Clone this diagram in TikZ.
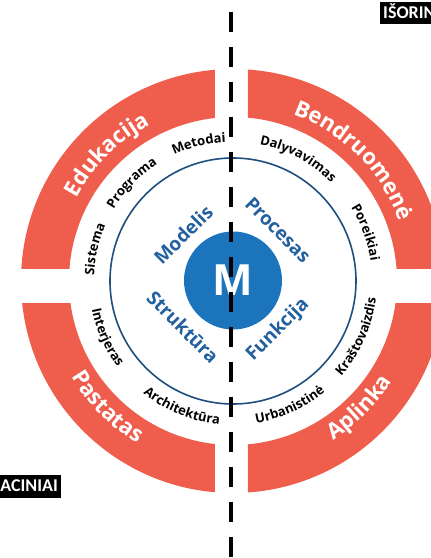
\documentclass[tikz,border=0pt]{standalone}
\usepackage{fontspec}
\setmainfont{Open Sans}
\newfontfamily\boxfont{Carlito}
\usetikzlibrary{decorations.text}

\definecolor{ringred}{RGB}{239,94,77}
\definecolor{discblue}{RGB}{28,117,188}
\definecolor{ringnavy}{RGB}{30,78,125}
\definecolor{labelblue}{RGB}{34,96,158}

\newcommand\blacklab{\fontsize{13}{15}\selectfont\bfseries}
\newcommand\redlab{\color{white}\fontsize{22}{26}\selectfont\bfseries}

\tikzset{
  arclabel/.style={decorate, decoration={text along path, text align=center, text={#1}}},
  innerlabel/.style={text=labelblue, font=\fontsize{19}{22}\selectfont\bfseries, inner sep=0pt},
  tagbox/.style={fill=black, text=white, font=\boxfont\bfseries\fontsize{18}{18}\selectfont,
    inner xsep=3pt, inner ysep=0pt, text height=16.5pt, text depth=6pt},
  divider/.style={line width=4.6pt, dash pattern=on 20pt off 15pt},
}

\begin{document}
\begin{tikzpicture}[x=1pt,y=1pt]
\useasboundingbox (-233,-277) rectangle (198,281);
\clip (-233,-277) rectangle (198,281);

% red ring, four segments
\foreach \xa/\xb/\ya/\yb in {-240/-18/13/290, 15/240/13/290, -240/-18/-290/-22, 15/240/-290/-22} {
  \begin{scope}
    \clip (\xa,\ya) rectangle (\xb,\yb);
    \fill[ringred, even odd rule] (0,0) circle[radius=212] circle[radius=164];
  \end{scope}
}
\path[arclabel={|\redlab|Edukacija}] (180:177) arc[start angle=180, end angle=90, radius=177];
\path[arclabel={|\redlab|Bendruomenė}] (90:177) arc[start angle=90, end angle=0, radius=177];
\path[arclabel={|\redlab|Pastatas}] (180:188) arc[start angle=180, end angle=270, radius=188];
\path[arclabel={|\redlab|Aplinka}] (270:188) arc[start angle=270, end angle=360, radius=188];

% black labels between ring and circle
\path[arclabel={|\blacklab|Metodai}] (144:139) arc[start angle=144, end angle=64, radius=139];
\path[arclabel={|\blacklab|Programa}] (176:139) arc[start angle=176, end angle=96, radius=139];
\path[arclabel={|\blacklab|Sistema}] (207:139) arc[start angle=207, end angle=127, radius=139];
\path[arclabel={|\blacklab|Dalyvavimas}] (102:139) arc[start angle=102, end angle=22, radius=139];
\path[arclabel={|\blacklab|Poreikiai}] (60:139) arc[start angle=60, end angle=-20, radius=139];
\path[arclabel={|\blacklab|Interjeras}] (164:144) arc[start angle=164, end angle=244, radius=144];
\path[arclabel={|\blacklab|Architektūra}] (208:144) arc[start angle=208, end angle=288, radius=144];
\path[arclabel={|\blacklab|Urbanistinė}] (254.5:144) arc[start angle=254.5, end angle=334.5, radius=144];
\path[arclabel={|\blacklab|Kraštovaizdis}] (296:144) arc[start angle=296, end angle=376, radius=144];

% blue core
\draw[ringnavy, line width=1.6pt] (0,0) circle[radius=123];
\node[circle, fill=discblue, minimum size=98pt, inner sep=0pt, text=white,
  font=\fontsize{43}{43}\selectfont\bfseries] (hub) at (0,0.5) {M};
\node[innerlabel, rotate=45] (modelis) at (137:68) {Modelis};
\node[innerlabel, rotate=-45] (procesas) at (48.6:68) {Procesas};
\node[innerlabel, rotate=-45] (struktura) at (222.6:68) {Struktūra};
\node[innerlabel, rotate=45] (funkcija) at (312.6:66.5) {Funkcija};

% dividing line
\coordinate (divtop) at (-2,269);
\coordinate (divbot) at (-2,-277);
\draw[divider] (divtop) -- (divbot);

% corner tags
\node[tagbox, anchor=base west] (outerbox) at (147,262.7) {IŠORINIAI};
\node[tagbox, anchor=base east] (innerbox) at (-172,-210.7) {ACINIAI};
\end{tikzpicture}
\end{document}
